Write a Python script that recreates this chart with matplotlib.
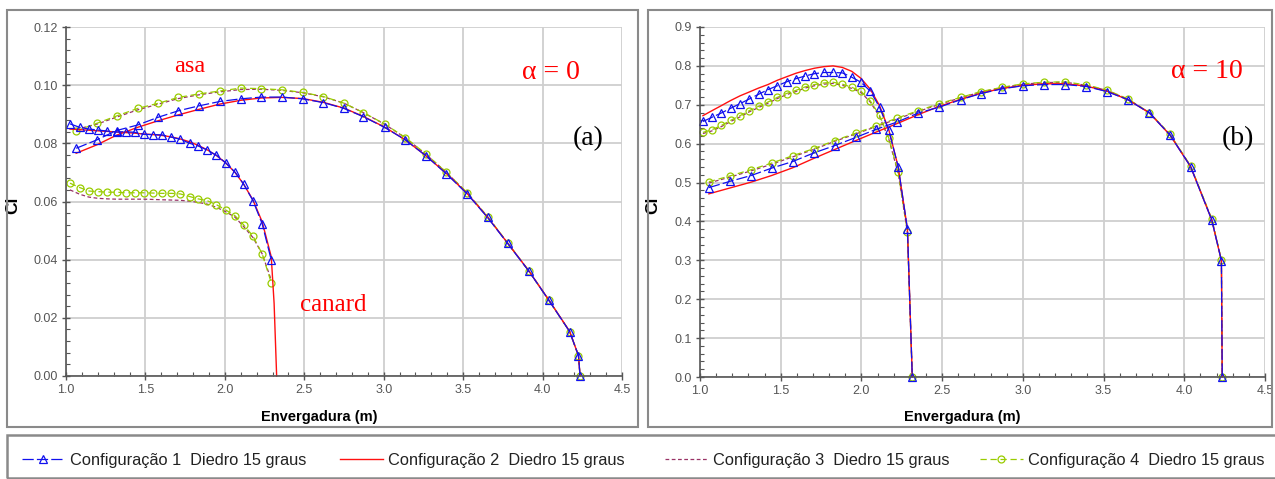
import matplotlib
matplotlib.use("Agg")
import matplotlib.pyplot as plt
from matplotlib.patches import Rectangle
from matplotlib.ticker import MultipleLocator, FormatStrFormatter
import numpy as np

# ---------------- data: panel (a) alpha = 0 ----------------
a_wing_x = [1.064, 1.195, 1.318, 1.451, 1.582, 1.708, 1.838, 1.969, 2.10, 2.23, 2.36, 2.49,
            2.62, 2.75, 2.87, 3.005, 3.136, 3.264, 3.395, 3.526, 3.654, 3.78, 3.913, 4.04,
            4.17, 4.226, 4.236]
a_wing_c1 = [0.0783, 0.0812, 0.0844, 0.0863, 0.0890, 0.0912, 0.0929, 0.0944, 0.0953, 0.0959,
             0.0959, 0.0953, 0.0940, 0.0920, 0.0892, 0.0855, 0.0812, 0.0758, 0.0695, 0.0626,
             0.0545, 0.0456, 0.0361, 0.0260, 0.0153, 0.0070, 0.0]
a_wing_c2 = [0.0766, 0.0795, 0.0828, 0.0855, 0.0878, 0.0898, 0.0917, 0.0935, 0.0948, 0.0956,
             0.0958, 0.0954, 0.0941, 0.0921, 0.0893, 0.0856, 0.0812, 0.0758, 0.0696, 0.0627,
             0.0546, 0.0457, 0.0362, 0.0261, 0.0154, 0.0070, 0.0]
a_wing_c3 = [0.0848, 0.0866, 0.0890, 0.0915, 0.0935, 0.0954, 0.0967, 0.0977, 0.0985, 0.0986,
             0.0982, 0.0974, 0.0960, 0.0938, 0.0906, 0.0866, 0.0819, 0.0763, 0.0700, 0.0629,
             0.0547, 0.0457, 0.0361, 0.0260, 0.0153, 0.0070, 0.0]
a_wing_c4 = [0.0843, 0.0869, 0.0894, 0.0920, 0.0938, 0.0958, 0.0970, 0.0980, 0.0990, 0.0988,
             0.0984, 0.0975, 0.0961, 0.0938, 0.0906, 0.0867, 0.0820, 0.0764, 0.0700, 0.0630,
             0.0548, 0.0458, 0.0362, 0.0260, 0.0153, 0.0070, 0.0]

a_can_x = [1.025, 1.086, 1.145, 1.200, 1.260, 1.318, 1.375, 1.432, 1.490, 1.549, 1.605, 1.664,
           1.720, 1.779, 1.832, 1.888, 1.947, 2.005, 2.064, 2.118, 2.177, 2.235, 2.292]
a_can_c1 = [0.0867, 0.0855, 0.0849, 0.0846, 0.0842, 0.0839, 0.0840, 0.0838, 0.0831, 0.0830,
            0.0829, 0.0821, 0.0814, 0.0800, 0.0791, 0.0777, 0.0759, 0.0733, 0.0701, 0.0660,
            0.0603, 0.0523, 0.0399]
a_can_c2_x = a_can_x + [2.310, 2.326]
a_can_c2 = [0.0849, 0.0847, 0.0845, 0.0843, 0.0841, 0.0839, 0.0837, 0.0835, 0.0832, 0.0830,
            0.0827, 0.0822, 0.0815, 0.0805, 0.0793, 0.0778, 0.0758, 0.0733, 0.0700, 0.0660,
            0.0605, 0.0530, 0.0410, 0.0250, 0.0]
a_can_c3 = [0.0640, 0.0625, 0.0615, 0.0611, 0.0609, 0.0608, 0.0608, 0.0608, 0.0608, 0.0607,
            0.0606, 0.0605, 0.0604, 0.0601, 0.0597, 0.0591, 0.0580, 0.0565, 0.0546, 0.0514,
            0.0476, 0.0420, 0.0330]
a_can_c4 = [0.0663, 0.0648, 0.0636, 0.0634, 0.0632, 0.0632, 0.0630, 0.0630, 0.0630, 0.0629,
            0.0628, 0.0628, 0.0626, 0.0617, 0.0609, 0.0603, 0.0589, 0.0571, 0.0551, 0.0520,
            0.0481, 0.0420, 0.0321]

# ---------------- data: panel (b) alpha = 10 ----------------
b_wing_x = [1.055, 1.185, 1.316, 1.443, 1.574, 1.704, 1.834, 1.965, 2.092, 2.223, 2.353, 2.483,
            2.614, 2.741, 2.872, 3.002, 3.132, 3.263, 3.393, 3.521, 3.651, 3.784, 3.912, 4.039,
            4.170, 4.230, 4.235]
b_wing_c1 = [0.487, 0.503, 0.518, 0.537, 0.554, 0.576, 0.595, 0.616, 0.637, 0.656, 0.679, 0.694,
             0.713, 0.729, 0.741, 0.749, 0.752, 0.752, 0.747, 0.734, 0.713, 0.679, 0.622, 0.541,
             0.404, 0.299, 0.0]
b_wing_c2 = [0.471, 0.486, 0.501, 0.518, 0.538, 0.562, 0.585, 0.608, 0.630, 0.652, 0.675, 0.696,
             0.714, 0.730, 0.742, 0.750, 0.754, 0.754, 0.748, 0.735, 0.713, 0.679, 0.622, 0.541,
             0.404, 0.299, 0.0]
b_wing_c3 = [0.499, 0.514, 0.530, 0.547, 0.566, 0.585, 0.606, 0.625, 0.644, 0.664, 0.683, 0.701,
             0.718, 0.733, 0.744, 0.753, 0.757, 0.758, 0.750, 0.737, 0.714, 0.680, 0.623, 0.542,
             0.406, 0.300, 0.0]
b_wing_c4 = [0.502, 0.517, 0.533, 0.550, 0.569, 0.587, 0.608, 0.627, 0.646, 0.666, 0.685, 0.703,
             0.719, 0.734, 0.745, 0.754, 0.758, 0.759, 0.751, 0.738, 0.715, 0.680, 0.624, 0.543,
             0.407, 0.301, 0.0]

b_can_x = [1.018, 1.075, 1.133, 1.190, 1.248, 1.306, 1.363, 1.421, 1.479, 1.536, 1.594, 1.651,
           1.709, 1.767, 1.824, 1.882, 1.940, 1.997, 2.055, 2.112, 2.170, 2.228, 2.285, 2.315]
b_can_c1 = [0.657, 0.668, 0.679, 0.691, 0.703, 0.715, 0.727, 0.739, 0.749, 0.759, 0.767, 0.774,
            0.780, 0.783, 0.783, 0.782, 0.771, 0.758, 0.735, 0.694, 0.634, 0.540, 0.381, 0.0]
b_can_c2 = [0.672, 0.685, 0.698, 0.711, 0.723, 0.733, 0.743, 0.752, 0.763, 0.772, 0.781, 0.788,
            0.794, 0.798, 0.800, 0.796, 0.786, 0.768, 0.740, 0.698, 0.635, 0.540, 0.380, 0.0]
b_can_c3 = [0.626, 0.633, 0.644, 0.657, 0.669, 0.682, 0.693, 0.704, 0.716, 0.726, 0.734, 0.743,
            0.749, 0.753, 0.755, 0.750, 0.742, 0.732, 0.707, 0.670, 0.611, 0.523, 0.372, 0.0]
b_can_c4 = [0.629, 0.636, 0.647, 0.660, 0.672, 0.685, 0.696, 0.707, 0.719, 0.729, 0.737, 0.746,
            0.752, 0.756, 0.758, 0.753, 0.745, 0.735, 0.710, 0.673, 0.614, 0.526, 0.374, 0.0]

labels = ["Configuração 1  Diedro 15 graus", "Configuração 2  Diedro 15 graus",
          "Configuração 3  Diedro 15 graus", "Configuração 4  Diedro 15 graus"]

# ---------------- styles ----------------
C1, C2, C3, C4 = "#1010ee", "#ff1010", "#993366", "#99cc00"
st1 = dict(color=C1, lw=0.9, ls=(0, (9, 2.5)), marker="^", ms=5.5, mfc="none", mec=C1, mew=0.9)
st2 = dict(color=C2, lw=1.0, ls="-")
st3 = dict(color=C3, lw=0.9, ls=(0, (3, 2)))
st4 = dict(color=C4, lw=0.9, ls=(0, (5, 3)), marker="o", ms=5, mfc="none", mec=C4, mew=0.9)

W, H = 1275, 479
fig = plt.figure(figsize=(W / 100, H / 100), dpi=100)
fig.patch.set_facecolor("white")

def fx(p): return p / W
def fy(p): return 1 - p / H

axA = fig.add_axes([fx(66), fy(376), fx(622 - 66), (376 - 27) / H])
axB = fig.add_axes([fx(700), fy(377), fx(1265 - 700), (377 - 27) / H])

serif = ["Liberation Serif", "DejaVu Serif"]
sans = ["Liberation Sans", "DejaVu Sans"]

def style(ax, ymax, ymaj, ymin_step, fmt):
    ax.set_xlim(1.0, 4.5)
    ax.set_ylim(0, ymax)
    ax.xaxis.set_major_locator(MultipleLocator(0.5))
    ax.xaxis.set_minor_locator(MultipleLocator(0.1))
    ax.yaxis.set_major_locator(MultipleLocator(ymaj))
    ax.yaxis.set_minor_locator(MultipleLocator(ymin_step))
    ax.xaxis.set_major_formatter(FormatStrFormatter("%.1f"))
    ax.yaxis.set_major_formatter(FormatStrFormatter(fmt))
    ax.grid(True, which="major", color="#cfcfcf", lw=1.3)
    ax.set_axisbelow(True)
    for s in ("top", "right"):
        ax.spines[s].set_visible(False)
    for s in ("left", "bottom"):
        ax.spines[s].set_color("#555555")
        ax.spines[s].set_linewidth(1.2)
    ax.tick_params(which="major", direction="inout", length=6, width=1, color="#555555",
                   labelcolor="#555555", labelsize=9, pad=3)
    ax.tick_params(which="minor", direction="in", length=3, width=0.8, color="#555555")
    for t in ax.get_xticklabels() + ax.get_yticklabels():
        t.set_family(sans)
    ax.set_xlabel("Envergadura (m)", family=sans, fontsize=10.5, fontweight="bold")
    ax.set_ylabel("Cl", family=sans, fontsize=12.5, fontweight="bold")

style(axA, 0.12, 0.02, 0.004, "%.2f")
style(axB, 0.9, 0.1, 0.02, "%.1f")

# panel (a)
h3, = axA.plot(a_wing_x, a_wing_c3, **st3)
axA.plot(a_can_x, a_can_c3, **st3)
h4, = axA.plot(a_wing_x, a_wing_c4, **st4)
axA.plot(a_can_x, a_can_c4, **st4)
h2, = axA.plot(a_wing_x, a_wing_c2, **st2)
axA.plot(a_can_c2_x, a_can_c2, **st2)
h1, = axA.plot(a_wing_x, a_wing_c1, **st1)
axA.plot(a_can_x, a_can_c1, **st1)

# panel (b)
axB.plot(b_wing_x, b_wing_c3, **st3)
axB.plot(b_can_x, b_can_c3, **st3)
axB.plot(b_wing_x, b_wing_c4, **st4)
axB.plot(b_can_x, b_can_c4, **st4)
axB.plot(b_wing_x, b_wing_c2, **st2)
axB.plot(b_can_x, b_can_c2, **st2)
axB.plot(b_wing_x, b_wing_c1, **st1)
axB.plot(b_can_x, b_can_c1, **st1)

for ax in (axA, axB):
    for ln in ax.get_lines():
        ln.set_clip_on(False)

# axis label positions
axA.xaxis.set_label_coords((319 - 66) / (622 - 66), -(410 - 376) / (376 - 27), transform=axA.transAxes)
axB.xaxis.set_label_coords((962 - 700) / (1265 - 700), -(410 - 377) / (377 - 27), transform=axB.transAxes)
axA.yaxis.set_label_coords(-(66 - 20) / (622 - 66), (376 - 205) / (376 - 27))
axB.yaxis.set_label_coords(-(700 - 660) / (1265 - 700), (377 - 205) / (377 - 27))

# annotations
red = "#ff0000"
axA.text(1.78, 0.1064, "asa", color=red, family=serif, fontsize=17.5, ha="center", va="center")
axA.text(4.05, 0.1045, "α = 0", color=red, family=serif, fontsize=20, ha="center", va="center")
axA.text(4.29, 0.0815, "(a)", color="black", family=serif, fontsize=20, ha="center", va="center")
axA.text(2.68, 0.0245, "canard", color=red, family=serif, fontsize=18, ha="center", va="center")
axB.text(4.14, 0.785, "α = 10", color=red, family=serif, fontsize=20, ha="center", va="center")
axB.text(4.33, 0.612, "(b)", color="black", family=serif, fontsize=20, ha="center", va="center")

# frames
fc = "#8a8a8a"
fig.patches.append(Rectangle((fx(7), fy(427)), fx(638 - 7), (427 - 10) / H, transform=fig.transFigure,
                             fill=False, ec=fc, lw=1.5))
fig.patches.append(Rectangle((fx(648), fy(427)), fx(1272 - 648), (427 - 10) / H, transform=fig.transFigure,
                             fill=False, ec=fc, lw=1.5))
fig.patches.append(Rectangle((fx(7), fy(478)), fx(1290 - 7), (478 - 435) / H, transform=fig.transFigure,
                             fill=False, ec=fc, lw=1.8, clip_on=False))

# legend entries
handles = [h1, h2, h3, h4]
starts = [22, 340, 665, 980]
for h, lab, x0 in zip(handles, labels, starts):
    fig.legend([h], [lab], loc="center left", bbox_to_anchor=(fx(x0), fy(460)), frameon=False,
               borderpad=0, borderaxespad=0, handlelength=2.6, handletextpad=0.3,
               prop=dict(family=sans, size=11.8), labelcolor="#222222")

fig.savefig("out.png", dpi=100, facecolor="white")
